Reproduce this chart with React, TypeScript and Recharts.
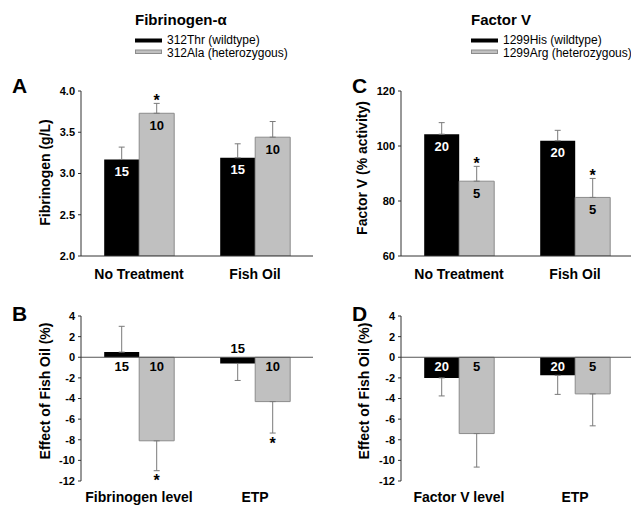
import {
  Bar,
  BarChart,
  ErrorBar,
  LabelList,
  ReferenceLine,
  XAxis,
  YAxis,
} from "recharts";

const FONT = '"Liberation Sans", Arial, Helvetica, sans-serif';
const BLACK = "#000000";
const GREY = "#c0c0c0";
const GREY_EDGE = "#8c8c8c";
const ERR = "#7a7a7a";
const AXIS = "#333333";

// Panel A: fibrinogen (g/L) by Fibrinogen-α genotype
const treatmentGroups = ["No Treatment", "Fish Oil"];
const fibThrMean = [3.17, 3.19];
const fibThrSem = [0.15, 0.17];
const fibAlaMean = [3.73, 3.44];
const fibAlaSem = [0.12, 0.19];
const fibThrN = ["15", "15"];
const fibAlaN = ["10", "10"];
const fibAlaStar = [true, false];
const fibTicks = [2, 2.5, 3, 3.5, 4];

// Panel B: effect of fish oil (%) by Fibrinogen-α genotype
const fibEffectGroups = ["Fibrinogen level", "ETP"];
const fibThrEffect = [0.5, -0.6];
const fibThrEffectSem = [2.5, 1.65];
const fibAlaEffect = [-8.1, -4.3];
const fibAlaEffectSem = [2.9, 3.05];
const fibAlaEffectStar = [true, true];
const effectTicks = [-12, -10, -8, -6, -4, -2, 0, 2, 4];

// Panel C: factor V (% activity) by Factor V genotype
const fvHisMean = [104.3, 101.9];
const fvHisSem = [4.2, 3.8];
const fvArgMean = [87.2, 81.3];
const fvArgSem = [5.4, 6.9];
const fvHisN = ["20", "20"];
const fvArgN = ["5", "5"];
const fvArgStar = [true, true];
const fvTicks = [60, 80, 100, 120];

// Panel D: effect of fish oil (%) by Factor V genotype
const fvEffectGroups = ["Factor V level", "ETP"];
const fvHisEffect = [-2.0, -1.75];
const fvHisEffectSem = [1.75, 1.85];
const fvArgEffect = [-7.4, -3.55];
const fvArgEffectSem = [3.25, 3.1];
const fvArgEffectStar = [false, false];

// legend texts
const fibLegend = ["312Thr (wildtype)", "312Ala (heterozygous)"];
const fvLegend = ["1299His (wildtype)", "1299Arg (heterozygous)"];

type Row = { group: string; a: number; aErr: number[]; b: number; bErr: number[] };

// error bars are drawn on one side only, away from the base
const oneSided = (v: number, e: number, base: number) => (v >= base ? [0, e] : [e, 0]);

function buildRows(
  groups: string[],
  a: number[],
  aErr: number[],
  b: number[],
  bErr: number[],
  base: number
): Row[] {
  return groups.map((group, i) => ({
    group,
    a: a[i],
    aErr: oneSided(a[i], aErr[i], base),
    b: b[i],
    bErr: oneSided(b[i], bErr[i], base),
  }));
}

function barEdges(props: any, value: number, base: number) {
  const vb = props.viewBox ?? props;
  const x = Number(vb.x);
  const y = Number(vb.y);
  const w = Number(vb.width);
  const h = Number(vb.height);
  const top = Math.min(y, y + h);
  const bottom = Math.max(y, y + h);
  const up = value >= base;
  return {
    cx: x + w / 2,
    top,
    bottom,
    up,
    valueY: up ? top : bottom,
    baseY: up ? bottom : top,
  };
}

// "n" labels printed in the bars
const countLabel =
  (values: number[], texts: string[], inside: string, mode: "top" | "zero", base: number) =>
  (props: any) => {
    const i = props.index;
    const e = barEdges(props, values[i], base);
    let y = e.valueY + 16.5;
    let fill = inside;
    if (mode === "zero") {
      const small = e.bottom - e.top < 15;
      if (small) fill = BLACK;
      y = !e.up && small ? e.baseY - 4.5 : e.baseY + 14;
    }
    return (
      <text x={e.cx} y={y} textAnchor="middle" fill={fill} fontSize={13} fontWeight="bold" fontFamily={FONT}>
        {texts[i]}
      </text>
    );
  };

// significance asterisk at the end of the error bar
const starLabel =
  (values: number[], errs: number[], stars: boolean[], base: number) => (props: any) => {
    const i = props.index;
    if (!stars[i]) return null;
    const e = barEdges(props, values[i], base);
    const ppu = (e.bottom - e.top) / Math.abs(values[i] - base);
    const end = e.up ? e.valueY - errs[i] * ppu : e.valueY + errs[i] * ppu;
    return (
      <text x={e.cx} y={e.up ? end + 2.5 : end + 15.5} textAnchor="middle" fill={BLACK} fontSize={16} fontWeight="bold" fontFamily={FONT}>
        *
      </text>
    );
  };

type PanelProps = {
  left: number;
  top: number;
  height: number;
  marginTop: number;
  rows: Row[];
  a: number[];
  aErr: number[];
  b: number[];
  bErr: number[];
  aN: string[];
  bN: string[];
  bStar: boolean[];
  domain: [number, number];
  ticks: number[];
  base: number;
  mode: "top" | "zero";
  decimals: number;
};

const Panel = (p: PanelProps) => {
  const isTop = p.mode === "top";
  return (
    <div style={{ position: "absolute", left: p.left, top: p.top }}>
      <BarChart
        width={320}
        height={p.height}
        data={p.rows}
        margin={{ top: p.marginTop, right: 7, bottom: 4, left: 41 }}
        barCategoryGap="20%"
        barGap={0}
      >
        <XAxis
          dataKey="group"
          height={isTop ? 30 : 20}
          tickLine={false}
          tickSize={0}
          tickMargin={isTop ? 13 : 10}
          axisLine={isTop ? { stroke: AXIS } : false}
          tick={{ fontSize: 14, fontWeight: "bold", fill: BLACK, fontFamily: FONT, dy: isTop ? 0 : 1 }}
        />
        <YAxis
          type="number"
          width={40}
          domain={p.domain}
          ticks={p.ticks}
          interval={0}
          allowDataOverflow
          tickFormatter={(v: number) => v.toFixed(p.decimals)}
          tickSize={3}
          tickMargin={3}
          axisLine={{ stroke: AXIS }}
          tickLine={{ stroke: AXIS }}
          tick={{ fontSize: 11, fontWeight: "bold", fill: BLACK, fontFamily: FONT }}
        />
        {!isTop && <ReferenceLine y={0} stroke="#555555" />}
        <Bar dataKey="a" fill={BLACK} isAnimationActive={false}>
          <ErrorBar dataKey="aErr" direction="y" width={3} stroke={ERR} strokeWidth={1} isAnimationActive={false} />
          <LabelList dataKey="a" content={countLabel(p.a, p.aN, "#ffffff", p.mode, p.base)} />
        </Bar>
        <Bar dataKey="b" fill={GREY} stroke={GREY_EDGE} strokeWidth={1} isAnimationActive={false}>
          <ErrorBar dataKey="bErr" direction="y" width={3} stroke={ERR} strokeWidth={1} isAnimationActive={false} />
          <LabelList dataKey="b" content={countLabel(p.b, p.bN, BLACK, p.mode, p.base)} />
          <LabelList dataKey="b" content={starLabel(p.b, p.bErr, p.bStar, p.base)} />
        </Bar>
      </BarChart>
    </div>
  );
};

const Legend = ({ x, title, items }: { x: number; title: string; items: string[] }) => (
  <g fontFamily={FONT}>
    <text x={x} y={25} fontSize={15} fontWeight="bold" fill={BLACK}>
      {title}
    </text>
    <rect x={x} y={38.5} width={27} height={4} fill={BLACK} />
    <rect x={x + 0.5} y={50} width={26} height={3.5} fill={GREY} stroke={GREY_EDGE} strokeWidth={1} />
    <text x={x + 32} y={44} fontSize={12} fill={BLACK}>
      {items[0]}
    </text>
    <text x={x + 32} y={56.5} fontSize={12} fill={BLACK}>
      {items[1]}
    </text>
  </g>
);

const AxisTitle = ({ x, y, text }: { x: number; y: number; text: string }) => (
  <text
    transform={`translate(${x},${y}) rotate(-90)`}
    textAnchor="middle"
    dy="0.355em"
    fontSize={14}
    fontWeight="bold"
    fontFamily={FONT}
    fill={BLACK}
  >
    {text}
  </text>
);

const Letter = ({ x, y, text }: { x: number; y: number; text: string }) => (
  <text x={x} y={y} fontSize={21} fontWeight="bold" fontFamily={FONT} fill={BLACK}>
    {text}
  </text>
);

export default function App() {
  const rowsA = buildRows(treatmentGroups, fibThrMean, fibThrSem, fibAlaMean, fibAlaSem, 2);
  const rowsB = buildRows(fibEffectGroups, fibThrEffect, fibThrEffectSem, fibAlaEffect, fibAlaEffectSem, 0);
  const rowsC = buildRows(treatmentGroups, fvHisMean, fvHisSem, fvArgMean, fvArgSem, 60);
  const rowsD = buildRows(fvEffectGroups, fvHisEffect, fvHisEffectSem, fvArgEffect, fvArgEffectSem, 0);

  return (
    <div
      style={{
        position: "absolute",
        left: 0,
        top: 0,
        width: 631,
        height: 505,
        overflow: "hidden",
        background: "#ffffff",
        fontFamily: FONT,
      }}
    >
      <Panel
        left={0} top={70} height={220} marginTop={21}
        rows={rowsA} a={fibThrMean} aErr={fibThrSem} b={fibAlaMean} bErr={fibAlaSem}
        aN={fibThrN} bN={fibAlaN} bStar={fibAlaStar}
        domain={[2, 4]} ticks={fibTicks} base={2} mode="top" decimals={1}
      />
      <Panel
        left={320} top={70} height={220} marginTop={21}
        rows={rowsC} a={fvHisMean} aErr={fvHisSem} b={fvArgMean} bErr={fvArgSem}
        aN={fvHisN} bN={fvArgN} bStar={fvArgStar}
        domain={[60, 120]} ticks={fvTicks} base={60} mode="top" decimals={0}
      />
      <Panel
        left={0} top={300} height={205} marginTop={16}
        rows={rowsB} a={fibThrEffect} aErr={fibThrEffectSem} b={fibAlaEffect} bErr={fibAlaEffectSem}
        aN={fibThrN} bN={fibAlaN} bStar={fibAlaEffectStar}
        domain={[-12, 4]} ticks={effectTicks} base={0} mode="zero" decimals={0}
      />
      <Panel
        left={320} top={300} height={205} marginTop={16}
        rows={rowsD} a={fvHisEffect} aErr={fvHisEffectSem} b={fvArgEffect} bErr={fvArgEffectSem}
        aN={fvHisN} bN={fvArgN} bStar={fvArgEffectStar}
        domain={[-12, 4]} ticks={effectTicks} base={0} mode="zero" decimals={0}
      />
      <svg
        width={631}
        height={505}
        style={{ position: "absolute", left: 0, top: 0, pointerEvents: "none" }}
      >
        <Legend x={135} title="Fibrinogen-α" items={fibLegend} />
        <Legend x={471} title="Factor V" items={fvLegend} />
        <Letter x={12} y={93} text="A" />
        <Letter x={352} y={93} text="C" />
        <Letter x={12} y={320.5} text="B" />
        <Letter x={352} y={320.5} text="D" />
        <AxisTitle x={45} y={172.5} text="Fibrinogen (g/L)" />
        <AxisTitle x={362} y={168} text="Factor V (% activity)" />
        <AxisTitle x={45} y={391} text="Effect of Fish Oil (%)" />
        <AxisTitle x={364} y={391} text="Effect of Fish Oil (%)" />
      </svg>
    </div>
  );
}
